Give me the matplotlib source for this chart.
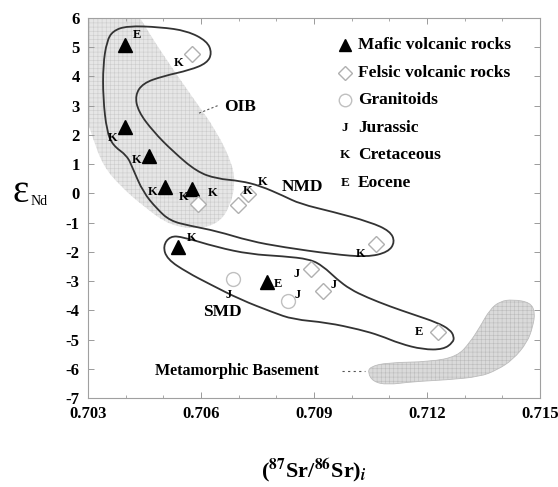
import matplotlib
matplotlib.use("Agg")
import matplotlib.pyplot as plt
from matplotlib.patches import PathPatch
from matplotlib.path import Path
from matplotlib.ticker import MultipleLocator

plt.rcParams['font.family'] = ['Liberation Serif', 'DejaVu Serif']
plt.rcParams['font.weight'] = 'bold'
plt.rcParams['mathtext.fontset'] = 'stix'
plt.rcParams['hatch.linewidth'] = 0.4

# --- samples: (87Sr/86Sr)i, eNd, age letter ---
mafic_sr = [0.70398, 0.70398, 0.70462, 0.70505, 0.70577, 0.70539, 0.70776]
mafic_nd = [5.07, 2.28, 1.29, 0.23, 0.16, -1.84, -3.04]
mafic_age = ['E', 'K', 'K', 'K', 'K', 'K', 'E']
mafic_off = [(12, -10), (-12, 11), (-12, 4), (-13, 5), (-9, 8), (14, -9), (11, 2)]

felsic_sr = [0.70577, 0.70593, 0.70699, 0.70726, 0.71064, 0.70891, 0.70925, 0.71229]
felsic_nd = [4.76, -0.36, -0.39, -0.01, -1.73, -2.60, -3.35, -4.75]
felsic_age = ['K', 'K', 'K', 'K', 'K', 'J', 'J', 'E']
felsic_off = [(-14, 9), (14, -11), (9, -14), (14, -12), (-15, 10), (-14, 5), (10, -6), (-19, 0)]

gran_sr = [0.70686, 0.70830]
gran_nd = [-2.94, -3.69]
gran_age = ['J', 'J']
gran_off = [(-5, 16), (10, -6)]

# --- field outlines (Sr, Nd) ---
nmd_sr = [0.70366, 0.70404, 0.70491, 0.70563, 0.70616, 0.70629, 0.70616, 0.70571,
          0.70499, 0.70446, 0.70425, 0.70433, 0.70473, 0.70526, 0.70589, 0.70642,
          0.70704, 0.70757, 0.70818, 0.70863, 0.70950, 0.71049, 0.71102, 0.71115,
          0.71097, 0.71041, 0.70950, 0.70818, 0.70730, 0.70642, 0.70571, 0.70518,
          0.70483, 0.70446, 0.70419, 0.70404, 0.70366, 0.70350, 0.70340, 0.70340,
          0.70350]
nmd_nd = [5.56, 5.73, 5.69, 5.56, 5.21, 4.80, 4.46, 4.22,
          4.01, 3.77, 3.36, 2.81, 2.12, 1.43, 0.74, 0.50,
          0.43, 0.26, -0.08, -0.36, -0.63, -0.98, -1.29, -1.66,
          -2.01, -2.18, -2.08, -1.84, -1.63, -1.29, -1.11, -0.94,
          -0.53, 0.05, 0.85, 1.29, 1.64, 2.12, 3.26, 4.39,
          5.21]

smd_sr = [0.70518, 0.70552, 0.70642, 0.70730, 0.70818, 0.70889, 0.70924, 0.70961,
          0.70996, 0.71041, 0.71102, 0.71163, 0.71227, 0.71261, 0.71272, 0.71269,
          0.71243, 0.71189, 0.71128, 0.71075, 0.71022, 0.70935, 0.70844, 0.70791,
          0.70704, 0.70624, 0.70563, 0.70510, 0.70499]
smd_nd = [-1.46, -1.49, -1.84, -2.08, -2.15, -2.25, -2.49, -2.94,
          -3.28, -3.56, -3.87, -4.14, -4.42, -4.66, -4.90, -5.10,
          -5.34, -5.34, -5.14, -4.86, -4.66, -4.42, -4.31, -4.07,
          -3.63, -3.11, -2.70, -2.25, -1.80]

oib_sr = [0.70270, 0.70270, 0.70425, 0.70465, 0.70518, 0.70579, 0.70642, 0.70685,
          0.70690, 0.70677, 0.70650, 0.70597, 0.70518, 0.70446, 0.70385, 0.70340,
          0.70313, 0.70285]
oib_nd = [3.3, 6.4, 6.3, 5.42, 4.39, 3.26, 2.12, 0.95,
          0.26, -0.43, -0.98, -1.22, -1.11, -0.43, 0.26, 0.95,
          1.88, 3.0]

meta_sr = [0.71049, 0.71094, 0.71208, 0.71280, 0.71314, 0.71341, 0.71367, 0.71394,
           0.71428, 0.71474, 0.71487, 0.71481, 0.71466, 0.71428, 0.71386, 0.71341,
           0.71253, 0.71163, 0.71094, 0.71057, 0.71043]
meta_nd = [-5.93, -5.79, -5.76, -5.58, -5.10, -4.56, -3.97, -3.69,
           -3.63, -3.73, -4.07, -4.56, -5.10, -5.69, -6.04, -6.27,
           -6.38, -6.44, -6.55, -6.44, -6.14]

legend_labels = ['Mafic volcanic rocks', 'Felsic volcanic rocks', 'Granitoids',
                 'Jurassic', 'Cretaceous', 'Eocene']
legend_keys = ['^', 'D', 'o', 'J', 'K', 'E']


def smooth_outline(xs, ys):
    # closed quadratic bezier through the midpoints of the traced vertices
    pts = list(zip(xs, ys))
    n = len(pts)
    mid = [((pts[i][0] + pts[(i + 1) % n][0]) / 2, (pts[i][1] + pts[(i + 1) % n][1]) / 2)
           for i in range(n)]
    verts = [mid[-1]]
    codes = [Path.MOVETO]
    for i in range(n):
        verts += [pts[i], mid[i]]
        codes += [Path.CURVE3, Path.CURVE3]
    return Path(verts, codes)


fig = plt.figure(figsize=(5.58, 4.87), dpi=100)
ax = fig.add_axes([88 / 558, 1 - 398 / 487, 452 / 558, 380 / 487])

# shaded fields
ax.add_patch(PathPatch(smooth_outline(oib_sr, oib_nd), facecolor='#e6e6e6',
                       edgecolor='#cccccc', hatch='++++', linewidth=0, zorder=1))
ax.add_patch(PathPatch(smooth_outline(meta_sr, meta_nd), facecolor='#dadada',
                       edgecolor='#bcbcbc', hatch='++++', linewidth=0.6, zorder=1))

# outlined fields
for xs, ys in [(nmd_sr, nmd_nd), (smd_sr, smd_nd)]:
    ax.add_patch(PathPatch(smooth_outline(xs, ys), fill=False,
                           edgecolor='#333333', linewidth=1.3, zorder=2))

ax.plot(mafic_sr, mafic_nd, linestyle='none', marker='^', markersize=10,
        color='black', zorder=4)
ax.plot(felsic_sr, felsic_nd, linestyle='none', marker='D', markersize=8,
        markerfacecolor='white', markeredgecolor='#b0b0b0', markeredgewidth=1, zorder=4)
ax.plot(gran_sr, gran_nd, linestyle='none', marker='o', markersize=10,
        markerfacecolor='white', markeredgecolor='#c0c0c0', markeredgewidth=1, zorder=4)

for xs, ys, ages, offs in [(mafic_sr, mafic_nd, mafic_age, mafic_off),
                           (felsic_sr, felsic_nd, felsic_age, felsic_off),
                           (gran_sr, gran_nd, gran_age, gran_off)]:
    for x, y, a, (dx, dy) in zip(xs, ys, ages, offs):
        ax.annotate(a, (x, y), xytext=(dx, -dy), textcoords='offset pixels',
                    ha='center', va='center', fontsize=9, fontweight='bold', zorder=5)

# field names
ax.text(0.70705, 2.97, 'OIB', fontsize=12.5, fontweight='bold', ha='center', va='center')
ax.plot([0.70644, 0.70590], [3.0, 2.72], linestyle=(0, (2, 2)), color='#555555', lw=0.8)
ax.text(0.70869, 0.22, 'NMD', fontsize=12.5, fontweight='bold', ha='center', va='center')
ax.text(0.70657, -4.07, 'SMD', fontsize=12.5, fontweight='bold', ha='center', va='center')
ax.text(0.70696, -6.08, 'Metamorphic Basement', fontsize=11.5, fontweight='bold',
        ha='center', va='center')
ax.plot([0.70975, 0.71035], [-6.08, -6.08], linestyle=(0, (2, 3)), color='#555555', lw=0.8)

# legend drawn by hand (symbol column + label column)
key_style = {
    '^': dict(color='black', markersize=9),
    'D': dict(markerfacecolor='white', markeredgecolor='#b0b0b0', markersize=7),
    'o': dict(markerfacecolor='white', markeredgecolor='#c0c0c0', markersize=9),
}
for i, (key, label) in enumerate(zip(legend_keys, legend_labels)):
    ly = 0.928 - i * 0.0722
    if key in key_style:
        ax.plot([0.5686], [ly], marker=key, linestyle='none', transform=ax.transAxes,
                **key_style[key])
    else:
        ax.text(0.5686, ly, key, transform=ax.transAxes, ha='center', va='center',
                fontsize=9.5, fontweight='bold')
    ax.text(0.597, ly, label, transform=ax.transAxes, ha='left', va='center',
            fontsize=12.5, fontweight='bold')

ax.set_xlim(0.703, 0.715)
ax.set_ylim(-7, 6)
ax.xaxis.set_minor_locator(MultipleLocator(0.001))
ax.tick_params(which='both', direction='in', top=True, right=True, color='#9a9a9a')
ax.tick_params(which='major', length=4, width=0.7, labelsize=12, pad=6)
ax.tick_params(which='minor', length=2, width=0.6)
ax.set_xticks([0.703, 0.706, 0.709, 0.712, 0.715])
ax.set_xticklabels(['0.703', '0.706', '0.709', '0.712', '0.715'], fontweight='bold')
ax.set_yticks(range(-7, 7))
ax.set_yticklabels([str(v) for v in range(-7, 7)], fontweight='bold')
for s in ax.spines.values():
    s.set_color('#a0a0a0')
    s.set_linewidth(0.8)

ax.set_xlabel(r'($^{87}$Sr/$^{86}$Sr)$_i$', fontsize=16, fontweight='bold', labelpad=24)
fig.text(12 / 558, 1 - 193 / 487, '\u03b5', fontsize=28, ha='left', va='center',
         fontweight='normal')
fig.text(31 / 558, 1 - 201 / 487, 'Nd', fontsize=10, ha='left', va='center',
         fontweight='normal')

fig.savefig('out.png', dpi=100)
